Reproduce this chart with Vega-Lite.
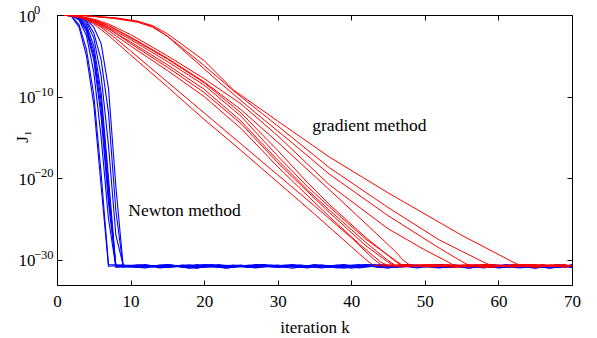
{
"$schema":"https://vega.github.io/schema/vega-lite/v6.json",
"width":515,"height":270,
"autosize":{"type":"none"},
"padding":{"left":57,"top":15,"right":25,"bottom":53},
"background":"white",
"config":{"view":{"stroke":"black","strokeWidth":1},"font":"'Liberation Serif', serif",
"axis":{"grid":false,"domainColor":"black","tickColor":"black","labelColor":"black","titleColor":"black","labelFont":"'Liberation Serif', serif","titleFont":"'Liberation Serif', serif","labelFontSize":17,"titleFontSize":17,"titleFontWeight":"normal","tickSize":-5,"domainWidth":1,"tickWidth":1,"labelFlush":false,"labelOverlap":false}},
"datasets":{
"newton":[
{"id":"B1","k":1,"v":0},{"id":"B1","k":2,"v":-0.2},{"id":"B1","k":3,"v":-1.5},{"id":"B1","k":4,"v":-5},{"id":"B1","k":5,"v":-11},{"id":"B1","k":6,"v":-21},{"id":"B1","k":7,"v":-30.8},
{"id":"B1","k":9,"v":-30.7},{"id":"B1","k":11,"v":-30.9},{"id":"B1","k":13,"v":-30.75},{"id":"B1","k":15,"v":-30.6},{"id":"B1","k":17,"v":-30.85},{"id":"B1","k":19,"v":-31.0},{"id":"B1","k":21,"v":-30.7},{"id":"B1","k":23,"v":-30.8},{"id":"B1","k":25,"v":-30.65},{"id":"B1","k":27,"v":-30.95},{"id":"B1","k":29,"v":-30.8},{"id":"B1","k":31,"v":-30.7},{"id":"B1","k":33,"v":-30.9},{"id":"B1","k":35,"v":-30.6},{"id":"B1","k":37,"v":-30.8},{"id":"B1","k":39,"v":-31.05},{"id":"B1","k":41,"v":-30.75},{"id":"B1","k":43,"v":-30.7},{"id":"B1","k":45,"v":-30.85},{"id":"B1","k":47,"v":-30.9},{"id":"B1","k":49,"v":-30.65},{"id":"B1","k":51,"v":-30.8},{"id":"B1","k":53,"v":-30.95},{"id":"B1","k":55,"v":-30.7},{"id":"B1","k":57,"v":-30.75},{"id":"B1","k":59,"v":-30.6},{"id":"B1","k":61,"v":-30.9},{"id":"B1","k":63,"v":-30.8},{"id":"B1","k":65,"v":-31.0},{"id":"B1","k":67,"v":-30.7},{"id":"B1","k":69,"v":-30.85},{"id":"B1","k":70,"v":-30.8},
{"id":"B2","k":1,"v":0},{"id":"B2","k":2,"v":-0.15},{"id":"B2","k":3,"v":-1.2},{"id":"B2","k":4,"v":-4.2},{"id":"B2","k":5,"v":-9.8},{"id":"B2","k":6,"v":-19.5},{"id":"B2","k":7,"v":-30.6},
{"id":"B2","k":9,"v":-30.65},{"id":"B2","k":11,"v":-30.95},{"id":"B2","k":13,"v":-30.8},{"id":"B2","k":15,"v":-30.7},{"id":"B2","k":17,"v":-30.9},{"id":"B2","k":19,"v":-30.6},{"id":"B2","k":21,"v":-30.8},{"id":"B2","k":23,"v":-31.05},{"id":"B2","k":25,"v":-30.75},{"id":"B2","k":27,"v":-30.7},{"id":"B2","k":29,"v":-30.85},{"id":"B2","k":31,"v":-30.9},{"id":"B2","k":33,"v":-30.65},{"id":"B2","k":35,"v":-30.8},{"id":"B2","k":37,"v":-30.95},{"id":"B2","k":39,"v":-30.7},{"id":"B2","k":41,"v":-30.75},{"id":"B2","k":43,"v":-30.6},{"id":"B2","k":45,"v":-30.9},{"id":"B2","k":47,"v":-30.8},{"id":"B2","k":49,"v":-31.0},{"id":"B2","k":51,"v":-30.7},{"id":"B2","k":53,"v":-30.85},{"id":"B2","k":55,"v":-30.8},{"id":"B2","k":57,"v":-30.7},{"id":"B2","k":59,"v":-30.9},{"id":"B2","k":61,"v":-30.75},{"id":"B2","k":63,"v":-30.6},{"id":"B2","k":65,"v":-30.85},{"id":"B2","k":67,"v":-31.0},{"id":"B2","k":69,"v":-30.7},{"id":"B2","k":70,"v":-30.8},
{"id":"B3","k":1,"v":0},{"id":"B3","k":2,"v":-0.1},{"id":"B3","k":3,"v":-0.6},{"id":"B3","k":4,"v":-2.5},{"id":"B3","k":5,"v":-7},{"id":"B3","k":6,"v":-15},{"id":"B3","k":7,"v":-25},{"id":"B3","k":8,"v":-30.9},
{"id":"B3","k":10,"v":-30.75},{"id":"B3","k":12,"v":-30.7},{"id":"B3","k":14,"v":-30.85},{"id":"B3","k":16,"v":-30.9},{"id":"B3","k":18,"v":-30.65},{"id":"B3","k":20,"v":-30.8},{"id":"B3","k":22,"v":-30.95},{"id":"B3","k":24,"v":-30.7},{"id":"B3","k":26,"v":-30.75},{"id":"B3","k":28,"v":-30.6},{"id":"B3","k":30,"v":-30.9},{"id":"B3","k":32,"v":-30.8},{"id":"B3","k":34,"v":-31.0},{"id":"B3","k":36,"v":-30.7},{"id":"B3","k":38,"v":-30.85},{"id":"B3","k":40,"v":-30.8},{"id":"B3","k":42,"v":-30.7},{"id":"B3","k":44,"v":-30.9},{"id":"B3","k":46,"v":-30.75},{"id":"B3","k":48,"v":-30.6},{"id":"B3","k":50,"v":-30.85},{"id":"B3","k":52,"v":-31.0},{"id":"B3","k":54,"v":-30.7},{"id":"B3","k":56,"v":-30.8},{"id":"B3","k":58,"v":-30.65},{"id":"B3","k":60,"v":-30.95},{"id":"B3","k":62,"v":-30.8},{"id":"B3","k":64,"v":-30.7},{"id":"B3","k":66,"v":-30.9},{"id":"B3","k":68,"v":-30.6},{"id":"B3","k":70,"v":-30.8},
{"id":"B4","k":1,"v":0},{"id":"B4","k":2,"v":-0.08},{"id":"B4","k":3,"v":-0.5},{"id":"B4","k":4,"v":-2},{"id":"B4","k":5,"v":-5.5},{"id":"B4","k":6,"v":-12.5},{"id":"B4","k":7,"v":-23},{"id":"B4","k":8,"v":-30.7},
{"id":"B4","k":10,"v":-30.85},{"id":"B4","k":12,"v":-30.7},{"id":"B4","k":14,"v":-31.0},{"id":"B4","k":16,"v":-30.8},{"id":"B4","k":18,"v":-30.9},{"id":"B4","k":20,"v":-30.6},{"id":"B4","k":22,"v":-30.75},{"id":"B4","k":24,"v":-30.7},{"id":"B4","k":26,"v":-30.95},{"id":"B4","k":28,"v":-30.8},{"id":"B4","k":30,"v":-30.65},{"id":"B4","k":32,"v":-30.9},{"id":"B4","k":34,"v":-30.85},{"id":"B4","k":36,"v":-30.7},{"id":"B4","k":38,"v":-30.75},{"id":"B4","k":40,"v":-31.05},{"id":"B4","k":42,"v":-30.8},{"id":"B4","k":44,"v":-30.6},{"id":"B4","k":46,"v":-30.9},{"id":"B4","k":48,"v":-30.7},{"id":"B4","k":50,"v":-30.8},{"id":"B4","k":52,"v":-30.95},{"id":"B4","k":54,"v":-30.65},{"id":"B4","k":56,"v":-30.8},{"id":"B4","k":58,"v":-30.7},{"id":"B4","k":60,"v":-31.0},{"id":"B4","k":62,"v":-30.85},{"id":"B4","k":64,"v":-30.6},{"id":"B4","k":66,"v":-30.75},{"id":"B4","k":68,"v":-30.9},{"id":"B4","k":70,"v":-30.7},
{"id":"B5","k":1,"v":0},{"id":"B5","k":2,"v":-0.07},{"id":"B5","k":3,"v":-0.4},{"id":"B5","k":4,"v":-1.7},{"id":"B5","k":5,"v":-5},{"id":"B5","k":6,"v":-11.5},{"id":"B5","k":7,"v":-22},{"id":"B5","k":8,"v":-30.8},
{"id":"B5","k":10,"v":-30.85},{"id":"B5","k":12,"v":-31.0},{"id":"B5","k":14,"v":-30.7},{"id":"B5","k":16,"v":-30.8},{"id":"B5","k":18,"v":-30.65},{"id":"B5","k":20,"v":-30.95},{"id":"B5","k":22,"v":-30.8},{"id":"B5","k":24,"v":-30.7},{"id":"B5","k":26,"v":-30.9},{"id":"B5","k":28,"v":-30.6},{"id":"B5","k":30,"v":-30.8},{"id":"B5","k":32,"v":-31.05},{"id":"B5","k":34,"v":-30.75},{"id":"B5","k":36,"v":-30.7},{"id":"B5","k":38,"v":-30.85},{"id":"B5","k":40,"v":-30.9},{"id":"B5","k":42,"v":-30.65},{"id":"B5","k":44,"v":-30.8},{"id":"B5","k":46,"v":-30.95},{"id":"B5","k":48,"v":-30.7},{"id":"B5","k":50,"v":-30.75},{"id":"B5","k":52,"v":-30.6},{"id":"B5","k":54,"v":-30.9},{"id":"B5","k":56,"v":-30.8},{"id":"B5","k":58,"v":-31.0},{"id":"B5","k":60,"v":-30.7},{"id":"B5","k":62,"v":-30.85},{"id":"B5","k":64,"v":-30.8},{"id":"B5","k":66,"v":-30.7},{"id":"B5","k":68,"v":-30.9},{"id":"B5","k":70,"v":-30.75},
{"id":"B6","k":1,"v":0},{"id":"B6","k":2,"v":-0.06},{"id":"B6","k":3,"v":-0.35},{"id":"B6","k":4,"v":-1.5},{"id":"B6","k":5,"v":-4.5},{"id":"B6","k":6,"v":-10.5},{"id":"B6","k":7,"v":-21},{"id":"B6","k":8,"v":-30.9},
{"id":"B6","k":10,"v":-30.9},{"id":"B6","k":12,"v":-30.85},{"id":"B6","k":14,"v":-30.7},{"id":"B6","k":16,"v":-30.75},{"id":"B6","k":18,"v":-31.05},{"id":"B6","k":20,"v":-30.8},{"id":"B6","k":22,"v":-30.6},{"id":"B6","k":24,"v":-30.9},{"id":"B6","k":26,"v":-30.7},{"id":"B6","k":28,"v":-30.8},{"id":"B6","k":30,"v":-30.95},{"id":"B6","k":32,"v":-30.65},{"id":"B6","k":34,"v":-30.8},{"id":"B6","k":36,"v":-30.7},{"id":"B6","k":38,"v":-31.0},{"id":"B6","k":40,"v":-30.85},{"id":"B6","k":42,"v":-30.6},{"id":"B6","k":44,"v":-30.75},{"id":"B6","k":46,"v":-30.9},{"id":"B6","k":48,"v":-30.7},{"id":"B6","k":50,"v":-30.8},{"id":"B6","k":52,"v":-30.85},{"id":"B6","k":54,"v":-30.7},{"id":"B6","k":56,"v":-31.0},{"id":"B6","k":58,"v":-30.8},{"id":"B6","k":60,"v":-30.9},{"id":"B6","k":62,"v":-30.6},{"id":"B6","k":64,"v":-30.75},{"id":"B6","k":66,"v":-30.7},{"id":"B6","k":68,"v":-30.95},{"id":"B6","k":70,"v":-30.8},
{"id":"B7","k":1,"v":0},{"id":"B7","k":2,"v":-0.05},{"id":"B7","k":3,"v":-0.3},{"id":"B7","k":4,"v":-1.2},{"id":"B7","k":5,"v":-3.8},{"id":"B7","k":6,"v":-9.5},{"id":"B7","k":7,"v":-20},{"id":"B7","k":8,"v":-30.8},
{"id":"B7","k":10,"v":-30.75},{"id":"B7","k":12,"v":-30.6},{"id":"B7","k":14,"v":-30.9},{"id":"B7","k":16,"v":-30.8},{"id":"B7","k":18,"v":-31.0},{"id":"B7","k":20,"v":-30.7},{"id":"B7","k":22,"v":-30.85},{"id":"B7","k":24,"v":-30.8},{"id":"B7","k":26,"v":-30.7},{"id":"B7","k":28,"v":-30.9},{"id":"B7","k":30,"v":-30.75},{"id":"B7","k":32,"v":-30.6},{"id":"B7","k":34,"v":-30.85},{"id":"B7","k":36,"v":-31.0},{"id":"B7","k":38,"v":-30.7},{"id":"B7","k":40,"v":-30.8},{"id":"B7","k":42,"v":-30.65},{"id":"B7","k":44,"v":-30.95},{"id":"B7","k":46,"v":-30.8},{"id":"B7","k":48,"v":-30.7},{"id":"B7","k":50,"v":-30.9},{"id":"B7","k":52,"v":-30.6},{"id":"B7","k":54,"v":-30.8},{"id":"B7","k":56,"v":-31.05},{"id":"B7","k":58,"v":-30.75},{"id":"B7","k":60,"v":-30.7},{"id":"B7","k":62,"v":-30.85},{"id":"B7","k":64,"v":-30.9},{"id":"B7","k":66,"v":-30.65},{"id":"B7","k":68,"v":-30.8},{"id":"B7","k":70,"v":-30.95},
{"id":"B8","k":1,"v":0},{"id":"B8","k":2,"v":-0.04},{"id":"B8","k":3,"v":-0.2},{"id":"B8","k":4,"v":-0.9},{"id":"B8","k":5,"v":-2.8},{"id":"B8","k":6,"v":-7.5},{"id":"B8","k":7,"v":-16},{"id":"B8","k":8,"v":-27},{"id":"B8","k":9,"v":-30.7},
{"id":"B8","k":11,"v":-30.7},{"id":"B8","k":13,"v":-30.9},{"id":"B8","k":15,"v":-30.6},{"id":"B8","k":17,"v":-30.8},{"id":"B8","k":19,"v":-31.05},{"id":"B8","k":21,"v":-30.75},{"id":"B8","k":23,"v":-30.7},{"id":"B8","k":25,"v":-30.85},{"id":"B8","k":27,"v":-30.9},{"id":"B8","k":29,"v":-30.65},{"id":"B8","k":31,"v":-30.8},{"id":"B8","k":33,"v":-30.95},{"id":"B8","k":35,"v":-30.7},{"id":"B8","k":37,"v":-30.75},{"id":"B8","k":39,"v":-30.6},{"id":"B8","k":41,"v":-30.9},{"id":"B8","k":43,"v":-30.8},{"id":"B8","k":45,"v":-31.0},{"id":"B8","k":47,"v":-30.7},{"id":"B8","k":49,"v":-30.85},{"id":"B8","k":51,"v":-30.8},{"id":"B8","k":53,"v":-30.7},{"id":"B8","k":55,"v":-30.9},{"id":"B8","k":57,"v":-30.75},{"id":"B8","k":59,"v":-30.6},{"id":"B8","k":61,"v":-30.85},{"id":"B8","k":63,"v":-31.0},{"id":"B8","k":65,"v":-30.7},{"id":"B8","k":67,"v":-30.8},{"id":"B8","k":69,"v":-30.65},{"id":"B8","k":70,"v":-30.95},
{"id":"B9","k":1,"v":0},{"id":"B9","k":2,"v":-0.03},{"id":"B9","k":3,"v":-0.15},{"id":"B9","k":4,"v":-0.7},{"id":"B9","k":5,"v":-2.2},{"id":"B9","k":6,"v":-5.5},{"id":"B9","k":7,"v":-12},{"id":"B9","k":8,"v":-24},{"id":"B9","k":9,"v":-30.9},
{"id":"B9","k":11,"v":-30.7},{"id":"B9","k":13,"v":-30.8},{"id":"B9","k":15,"v":-30.95},{"id":"B9","k":17,"v":-30.65},{"id":"B9","k":19,"v":-30.8},{"id":"B9","k":21,"v":-30.7},{"id":"B9","k":23,"v":-31.0},{"id":"B9","k":25,"v":-30.85},{"id":"B9","k":27,"v":-30.6},{"id":"B9","k":29,"v":-30.75},{"id":"B9","k":31,"v":-30.9},{"id":"B9","k":33,"v":-30.7},{"id":"B9","k":35,"v":-30.8},{"id":"B9","k":37,"v":-30.85},{"id":"B9","k":39,"v":-30.7},{"id":"B9","k":41,"v":-31.0},{"id":"B9","k":43,"v":-30.8},{"id":"B9","k":45,"v":-30.9},{"id":"B9","k":47,"v":-30.6},{"id":"B9","k":49,"v":-30.75},{"id":"B9","k":51,"v":-30.7},{"id":"B9","k":53,"v":-30.95},{"id":"B9","k":55,"v":-30.8},{"id":"B9","k":57,"v":-30.65},{"id":"B9","k":59,"v":-30.9},{"id":"B9","k":61,"v":-30.85},{"id":"B9","k":63,"v":-30.7},{"id":"B9","k":65,"v":-30.75},{"id":"B9","k":67,"v":-31.05},{"id":"B9","k":69,"v":-30.8},{"id":"B9","k":70,"v":-30.6},
{"id":"B10","k":1,"v":0},{"id":"B10","k":2,"v":-0.02},{"id":"B10","k":3,"v":-0.1},{"id":"B10","k":4,"v":-0.5},{"id":"B10","k":5,"v":-1.5},{"id":"B10","k":6,"v":-3.5},{"id":"B10","k":7,"v":-9},{"id":"B10","k":8,"v":-21},{"id":"B10","k":9,"v":-30.8},
{"id":"B10","k":11,"v":-30.65},{"id":"B10","k":13,"v":-30.8},{"id":"B10","k":15,"v":-30.95},{"id":"B10","k":17,"v":-30.7},{"id":"B10","k":19,"v":-30.75},{"id":"B10","k":21,"v":-30.6},{"id":"B10","k":23,"v":-30.9},{"id":"B10","k":25,"v":-30.8},{"id":"B10","k":27,"v":-31.0},{"id":"B10","k":29,"v":-30.7},{"id":"B10","k":31,"v":-30.85},{"id":"B10","k":33,"v":-30.8},{"id":"B10","k":35,"v":-30.7},{"id":"B10","k":37,"v":-30.9},{"id":"B10","k":39,"v":-30.75},{"id":"B10","k":41,"v":-30.6},{"id":"B10","k":43,"v":-30.85},{"id":"B10","k":45,"v":-31.0},{"id":"B10","k":47,"v":-30.7},{"id":"B10","k":49,"v":-30.8},{"id":"B10","k":51,"v":-30.65},{"id":"B10","k":53,"v":-30.95},{"id":"B10","k":55,"v":-30.8},{"id":"B10","k":57,"v":-30.7},{"id":"B10","k":59,"v":-30.9},{"id":"B10","k":61,"v":-30.6},{"id":"B10","k":63,"v":-30.8},{"id":"B10","k":65,"v":-31.05},{"id":"B10","k":67,"v":-30.75},{"id":"B10","k":69,"v":-30.7},{"id":"B10","k":70,"v":-30.85}
],
"gradient":[
{"id":"L1","k":1,"v":0},{"id":"L1","k":2,"v":-0.05},{"id":"L1","k":3,"v":-0.25},{"id":"L1","k":4,"v":-0.6},{"id":"L1","k":5,"v":-1.1},{"id":"L1","k":6,"v":-1.8},{"id":"L1","k":7,"v":-2.5},{"id":"L1","k":8,"v":-3.3},{"id":"L1","k":10,"v":-4.9},{"id":"L1","k":15,"v":-8.8},{"id":"L1","k":20,"v":-12.8},{"id":"L1","k":25,"v":-16.6},{"id":"L1","k":30,"v":-20.5},{"id":"L1","k":35,"v":-24.4},{"id":"L1","k":40,"v":-28.4},{"id":"L1","k":42,"v":-30.0},{"id":"L1","k":43,"v":-30.7},
{"id":"L1","k":45,"v":-30.8},{"id":"L1","k":47,"v":-30.6},{"id":"L1","k":49,"v":-30.75},{"id":"L1","k":51,"v":-30.9},{"id":"L1","k":53,"v":-30.65},{"id":"L1","k":55,"v":-30.7},{"id":"L1","k":57,"v":-30.85},{"id":"L1","k":59,"v":-30.6},{"id":"L1","k":61,"v":-30.8},{"id":"L1","k":63,"v":-30.7},{"id":"L1","k":65,"v":-30.95},{"id":"L1","k":67,"v":-30.65},{"id":"L1","k":69,"v":-30.75},{"id":"L1","k":70,"v":-30.7},
{"id":"L2","k":1,"v":0},{"id":"L2","k":2,"v":-0.04},{"id":"L2","k":3,"v":-0.2},{"id":"L2","k":4,"v":-0.5},{"id":"L2","k":5,"v":-0.95},{"id":"L2","k":6,"v":-1.5},{"id":"L2","k":7,"v":-2.2},{"id":"L2","k":8,"v":-2.9},{"id":"L2","k":10,"v":-4.4},{"id":"L2","k":15,"v":-8.2},{"id":"L2","k":20,"v":-12.0},{"id":"L2","k":25,"v":-15.8},{"id":"L2","k":30,"v":-19.6},{"id":"L2","k":35,"v":-23.4},{"id":"L2","k":40,"v":-27.3},{"id":"L2","k":43,"v":-29.9},{"id":"L2","k":44,"v":-30.6},
{"id":"L2","k":46,"v":-30.65},{"id":"L2","k":48,"v":-30.7},{"id":"L2","k":50,"v":-30.85},{"id":"L2","k":52,"v":-30.6},{"id":"L2","k":54,"v":-30.8},{"id":"L2","k":56,"v":-30.7},{"id":"L2","k":58,"v":-30.95},{"id":"L2","k":60,"v":-30.65},{"id":"L2","k":62,"v":-30.75},{"id":"L2","k":64,"v":-30.7},{"id":"L2","k":66,"v":-30.8},{"id":"L2","k":68,"v":-30.6},{"id":"L2","k":70,"v":-30.75},
{"id":"M1","k":1,"v":0},{"id":"M1","k":3,"v":-0.2},{"id":"M1","k":5,"v":-0.7},{"id":"M1","k":7,"v":-1.5},{"id":"M1","k":10,"v":-3.0},{"id":"M1","k":15,"v":-5.7},{"id":"M1","k":20,"v":-8.6},{"id":"M1","k":25,"v":-12.4},{"id":"M1","k":30,"v":-17.3},{"id":"M1","k":34,"v":-21.0},{"id":"M1","k":37,"v":-23.5},{"id":"M1","k":42,"v":-27.5},{"id":"M1","k":46,"v":-30.1},{"id":"M1","k":47,"v":-30.7},
{"id":"M1","k":49,"v":-30.8},{"id":"M1","k":51,"v":-30.65},{"id":"M1","k":53,"v":-30.75},{"id":"M1","k":55,"v":-30.9},{"id":"M1","k":57,"v":-30.7},{"id":"M1","k":59,"v":-30.6},{"id":"M1","k":61,"v":-30.85},{"id":"M1","k":63,"v":-30.7},{"id":"M1","k":65,"v":-30.8},{"id":"M1","k":67,"v":-30.65},{"id":"M1","k":69,"v":-30.9},{"id":"M1","k":70,"v":-30.7},
{"id":"M2","k":1,"v":0},{"id":"M2","k":3,"v":-0.25},{"id":"M2","k":5,"v":-0.8},{"id":"M2","k":7,"v":-1.7},{"id":"M2","k":10,"v":-3.3},{"id":"M2","k":15,"v":-6.1},{"id":"M2","k":20,"v":-9.1},{"id":"M2","k":25,"v":-13.0},{"id":"M2","k":30,"v":-17.8},{"id":"M2","k":34,"v":-21.4},{"id":"M2","k":37,"v":-23.9},{"id":"M2","k":42,"v":-27.9},{"id":"M2","k":45,"v":-30.1},{"id":"M2","k":46,"v":-30.7},
{"id":"M2","k":48,"v":-30.75},{"id":"M2","k":50,"v":-30.6},{"id":"M2","k":52,"v":-30.85},{"id":"M2","k":54,"v":-30.7},{"id":"M2","k":56,"v":-30.9},{"id":"M2","k":58,"v":-30.65},{"id":"M2","k":60,"v":-30.8},{"id":"M2","k":62,"v":-30.7},{"id":"M2","k":64,"v":-30.6},{"id":"M2","k":66,"v":-30.75},{"id":"M2","k":68,"v":-30.85},{"id":"M2","k":70,"v":-30.7},
{"id":"M3","k":1,"v":0},{"id":"M3","k":3,"v":-0.2},{"id":"M3","k":5,"v":-0.75},{"id":"M3","k":7,"v":-1.6},{"id":"M3","k":10,"v":-3.5},{"id":"M3","k":15,"v":-6.4},{"id":"M3","k":20,"v":-9.5},{"id":"M3","k":25,"v":-13.3},{"id":"M3","k":30,"v":-18.1},{"id":"M3","k":34,"v":-21.6},{"id":"M3","k":37,"v":-24.2},{"id":"M3","k":42,"v":-28.3},{"id":"M3","k":45,"v":-30.3},{"id":"M3","k":46,"v":-30.8},
{"id":"M3","k":48,"v":-30.6},{"id":"M3","k":50,"v":-30.8},{"id":"M3","k":52,"v":-30.7},{"id":"M3","k":54,"v":-30.95},{"id":"M3","k":56,"v":-30.65},{"id":"M3","k":58,"v":-30.75},{"id":"M3","k":60,"v":-30.7},{"id":"M3","k":62,"v":-30.85},{"id":"M3","k":64,"v":-30.6},{"id":"M3","k":66,"v":-30.8},{"id":"M3","k":68,"v":-30.7},{"id":"M3","k":70,"v":-30.75},
{"id":"M4","k":1,"v":0},{"id":"M4","k":3,"v":-0.3},{"id":"M4","k":5,"v":-0.9},{"id":"M4","k":7,"v":-1.9},{"id":"M4","k":10,"v":-3.8},{"id":"M4","k":15,"v":-6.8},{"id":"M4","k":20,"v":-10.0},{"id":"M4","k":25,"v":-13.9},{"id":"M4","k":30,"v":-18.6},{"id":"M4","k":34,"v":-22.1},{"id":"M4","k":37,"v":-24.7},{"id":"M4","k":41,"v":-28.0},{"id":"M4","k":44,"v":-30.3},{"id":"M4","k":45,"v":-30.7},
{"id":"M4","k":47,"v":-30.9},{"id":"M4","k":49,"v":-30.7},{"id":"M4","k":51,"v":-30.6},{"id":"M4","k":53,"v":-30.8},{"id":"M4","k":55,"v":-30.75},{"id":"M4","k":57,"v":-30.65},{"id":"M4","k":59,"v":-30.85},{"id":"M4","k":61,"v":-30.7},{"id":"M4","k":63,"v":-30.6},{"id":"M4","k":65,"v":-30.9},{"id":"M4","k":67,"v":-30.75},{"id":"M4","k":69,"v":-30.7},{"id":"M4","k":70,"v":-30.8},
{"id":"M5","k":1,"v":0},{"id":"M5","k":3,"v":-0.15},{"id":"M5","k":5,"v":-0.6},{"id":"M5","k":7,"v":-1.3},{"id":"M5","k":10,"v":-2.8},{"id":"M5","k":15,"v":-5.4},{"id":"M5","k":20,"v":-8.3},{"id":"M5","k":25,"v":-12.0},{"id":"M5","k":30,"v":-16.6},{"id":"M5","k":34,"v":-20.5},{"id":"M5","k":37,"v":-23.2},{"id":"M5","k":42,"v":-27.3},{"id":"M5","k":46,"v":-30.2},{"id":"M5","k":47,"v":-30.8},
{"id":"M5","k":49,"v":-30.7},{"id":"M5","k":51,"v":-30.85},{"id":"M5","k":53,"v":-30.6},{"id":"M5","k":55,"v":-30.75},{"id":"M5","k":57,"v":-30.8},{"id":"M5","k":59,"v":-30.95},{"id":"M5","k":61,"v":-30.7},{"id":"M5","k":63,"v":-30.65},{"id":"M5","k":65,"v":-30.8},{"id":"M5","k":67,"v":-30.75},{"id":"M5","k":69,"v":-30.6},{"id":"M5","k":70,"v":-30.8},
{"id":"N2","k":1,"v":0},{"id":"N2","k":3,"v":-0.2},{"id":"N2","k":5,"v":-0.6},{"id":"N2","k":7,"v":-1.3},{"id":"N2","k":10,"v":-2.7},{"id":"N2","k":15,"v":-5.3},{"id":"N2","k":20,"v":-8.2},{"id":"N2","k":25,"v":-11.6},{"id":"N2","k":30,"v":-15.6},{"id":"N2","k":37,"v":-21.4},{"id":"N2","k":42,"v":-25.6},{"id":"N2","k":46,"v":-29.0},{"id":"N2","k":47,"v":-30.0},{"id":"N2","k":48,"v":-30.7},
{"id":"N2","k":50,"v":-30.65},{"id":"N2","k":52,"v":-30.8},{"id":"N2","k":54,"v":-30.7},{"id":"N2","k":56,"v":-30.6},{"id":"N2","k":58,"v":-30.9},{"id":"N2","k":60,"v":-30.75},{"id":"N2","k":62,"v":-30.7},{"id":"N2","k":64,"v":-30.85},{"id":"N2","k":66,"v":-30.65},{"id":"N2","k":68,"v":-30.8},{"id":"N2","k":70,"v":-30.7},
{"id":"N1","k":1,"v":0},{"id":"N1","k":3,"v":-0.15},{"id":"N1","k":5,"v":-0.5},{"id":"N1","k":7,"v":-1.1},{"id":"N1","k":10,"v":-2.4},{"id":"N1","k":15,"v":-5.0},{"id":"N1","k":20,"v":-7.8},{"id":"N1","k":25,"v":-10.9},{"id":"N1","k":30,"v":-14.8},{"id":"N1","k":37,"v":-20.8},{"id":"N1","k":45,"v":-26.2},{"id":"N1","k":50,"v":-28.8},{"id":"N1","k":53,"v":-30.2},{"id":"N1","k":54,"v":-30.7},
{"id":"N1","k":56,"v":-30.8},{"id":"N1","k":58,"v":-30.6},{"id":"N1","k":60,"v":-30.75},{"id":"N1","k":62,"v":-30.9},{"id":"N1","k":64,"v":-30.7},{"id":"N1","k":66,"v":-30.65},{"id":"N1","k":68,"v":-30.8},{"id":"N1","k":70,"v":-30.7},
{"id":"T3","k":1,"v":0},{"id":"T3","k":4,"v":-0.1},{"id":"T3","k":8,"v":-0.35},{"id":"T3","k":11,"v":-0.75},{"id":"T3","k":13,"v":-1.4},{"id":"T3","k":15,"v":-2.6},{"id":"T3","k":18,"v":-5.0},{"id":"T3","k":22,"v":-8.2},{"id":"T3","k":27,"v":-12.0},{"id":"T3","k":32,"v":-15.7},{"id":"T3","k":37,"v":-19.5},{"id":"T3","k":45,"v":-24.6},{"id":"T3","k":52,"v":-28.6},{"id":"T3","k":55,"v":-30.2},{"id":"T3","k":56,"v":-30.7},
{"id":"T3","k":58,"v":-30.6},{"id":"T3","k":60,"v":-30.75},{"id":"T3","k":62,"v":-30.85},{"id":"T3","k":64,"v":-30.7},{"id":"T3","k":66,"v":-30.65},{"id":"T3","k":68,"v":-30.8},{"id":"T3","k":70,"v":-30.75},
{"id":"T2","k":1,"v":0},{"id":"T2","k":4,"v":-0.1},{"id":"T2","k":8,"v":-0.45},{"id":"T2","k":11,"v":-0.9},{"id":"T2","k":13,"v":-1.5},{"id":"T2","k":15,"v":-2.6},{"id":"T2","k":17,"v":-4.0},{"id":"T2","k":20,"v":-6.2},{"id":"T2","k":24,"v":-9.3},{"id":"T2","k":30,"v":-13.6},{"id":"T2","k":37,"v":-18.7},{"id":"T2","k":45,"v":-23.6},{"id":"T2","k":52,"v":-27.6},{"id":"T2","k":58,"v":-30.3},{"id":"T2","k":59,"v":-30.7},
{"id":"T2","k":61,"v":-30.75},{"id":"T2","k":63,"v":-30.6},{"id":"T2","k":65,"v":-30.8},{"id":"T2","k":67,"v":-30.7},{"id":"T2","k":69,"v":-30.9},{"id":"T2","k":70,"v":-30.7},
{"id":"T1","k":1,"v":0},{"id":"T1","k":4,"v":-0.1},{"id":"T1","k":8,"v":-0.4},{"id":"T1","k":11,"v":-0.8},{"id":"T1","k":13,"v":-1.3},{"id":"T1","k":15,"v":-2.3},{"id":"T1","k":17,"v":-3.6},{"id":"T1","k":20,"v":-5.6},{"id":"T1","k":24,"v":-9.2},{"id":"T1","k":30,"v":-13.0},{"id":"T1","k":37,"v":-17.4},{"id":"T1","k":45,"v":-21.8},{"id":"T1","k":55,"v":-27.0},{"id":"T1","k":62,"v":-30.3},{"id":"T1","k":63,"v":-30.7},
{"id":"T1","k":65,"v":-30.65},{"id":"T1","k":67,"v":-30.8},{"id":"T1","k":69,"v":-30.7},{"id":"T1","k":70,"v":-30.75}
],
"notes":[
{"k":34.7,"v":-14.2,"label":"gradient method"},
{"k":9.7,"v":-24.6,"label":"Newton method"}
],
"expo":[
{"v":0,"e":"0"},{"v":-10,"e":"−10"},{"v":-20,"e":"−20"},{"v":-30,"e":"−30"}
]},
"layer":[
{"data":{"name":"newton"},
 "mark":{"type":"line","color":"#0000ff","strokeWidth":1.1,"clip":true},
 "encoding":{
  "x":{"field":"k","type":"quantitative","scale":{"domain":[0,70],"nice":false,"zero":false},
       "axis":{"orient":"bottom","values":[0,10,20,30,40,50,60,70],"labelPadding":26,"labelBaseline":"alphabetic","title":"iteration k","titleY":47,"titleBaseline":"alphabetic"}},
  "y":{"field":"v","type":"quantitative","scale":{"domain":[-33.1,0],"nice":false,"zero":false},
       "axis":{"orient":"left","values":[-30,-20,-10,0],"labelPadding":44,"labelAlign":"left","labelBaseline":"middle","labelOffset":1,
               "labelExpr":"'10'",
               "title":"J₁","titleX":-35,"titleY":121,"titleAngle":-90,"titleAlign":"center","titleBaseline":"middle"}},
  "detail":{"field":"id","type":"nominal"}}},
{"data":{"name":"gradient"},
 "mark":{"type":"line","color":"#ff0000","strokeWidth":1,"clip":true},
 "encoding":{
  "x":{"field":"k","type":"quantitative","axis":null},
  "y":{"field":"v","type":"quantitative","axis":null},
  "detail":{"field":"id","type":"nominal"}}},
{"data":{"name":"notes"},
 "mark":{"type":"text","align":"left","baseline":"alphabetic","fontSize":17.5,"font":"'Liberation Serif', serif","color":"black"},
 "encoding":{
  "x":{"field":"k","type":"quantitative","axis":null},
  "y":{"field":"v","type":"quantitative","axis":null},
  "text":{"field":"label"}}},
{"data":{"name":"expo"},
 "mark":{"type":"text","align":"left","baseline":"alphabetic","fontSize":12.5,"font":"'Liberation Serif', serif","color":"black","dx":-23,"dy":-1},
 "encoding":{
  "x":{"datum":0,"type":"quantitative","axis":null},
  "y":{"field":"v","type":"quantitative","axis":null},
  "text":{"field":"e"}}},
{"data":{"name":"notes"},
 "mark":{"type":"point","opacity":0},
 "encoding":{
  "x":{"field":"k","type":"quantitative","axis":{"orient":"top","values":[0,10,20,30,40,50,60,70],"labels":false,"title":null,"domain":false}},
  "y":{"field":"v","type":"quantitative","axis":{"orient":"right","values":[-30,-20,-10,0],"labels":false,"title":null,"domain":false}}}}
],
"resolve":{"axis":{"x":"independent","y":"independent"}}
}
